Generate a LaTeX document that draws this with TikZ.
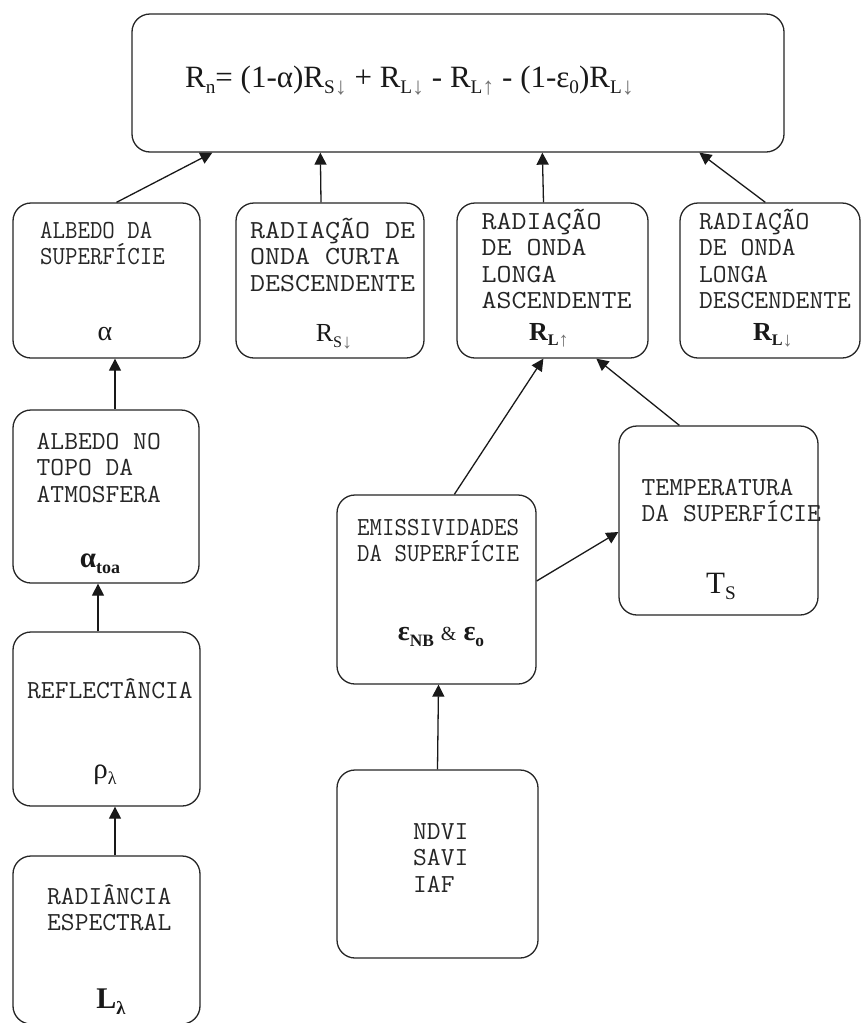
\documentclass[tikz,border=0pt]{standalone}
\usepackage{fontspec}
\setmainfont{Liberation Serif}
\newfontfamily\mA[FakeStretch=1.12]{Latin Modern Mono}
\newfontfamily\mB[FakeStretch=1.03]{Latin Modern Mono}
\newfontfamily\mC[FakeStretch=0.93]{Latin Modern Mono}
\usetikzlibrary{arrows.meta,calc}
\newcommand\sbs[1]{\raisebox{-0.22em}{\scalebox{0.62}{#1}}}
\newcommand\dnar{{\color{black!55}\raisebox{-0.05em}{\scalebox{1.25}{↓}}}}
\newcommand\uparw{{\color{black!55}\raisebox{-0.05em}{\scalebox{1.25}{↑}}}}
\newcommand\lines[1]{\parbox[t]{230pt}{\raggedright #1}}
\begin{document}
\begin{tikzpicture}[x=1pt,y=-1pt,
  box/.style={draw=black!85, line width=1.3pt, rounded corners=18pt, inner sep=0pt},
  conn/.style={draw=black!90, line width=1.3pt, -{Triangle[length=12pt,width=12pt]}},
  lbl/.style={anchor=base west, inner sep=0pt, text=black!85},
  fa/.style={font=\mA\fontsize{26}{26.5}\selectfont},
  fb/.style={font=\mB\fontsize{26}{26.5}\selectfont},
  fc/.style={font=\mC\fontsize{26}{26.5}\selectfont},
  sym/.style={anchor=base, inner sep=0pt, text=black!90}]
\useasboundingbox (0,0) rectangle (861,1023);
\fill[white] (0,0) rectangle (861,1023);

% boxes
\node[box, minimum width=652pt, minimum height=138pt] (top) at (458,83) {};
\node[box, minimum width=187pt, minimum height=155pt] (alb) at (106.5,280.5) {};
\node[box, minimum width=188pt, minimum height=155pt] (rs) at (330,280.5) {};
\node[box, minimum width=191pt, minimum height=155pt] (rlu) at (552.5,280.5) {};
\node[box, minimum width=180pt, minimum height=155pt] (rld) at (770,280.5) {};
\node[box, minimum width=186pt, minimum height=173pt] (toa) at (106,496.5) {};
\node[box, minimum width=187pt, minimum height=174pt] (refl) at (106.5,719) {};
\node[box, minimum width=187pt, minimum height=168pt] (rad) at (106.5,940) {};
\node[box, minimum width=199pt, minimum height=189pt] (emi) at (436.5,589.5) {};
\node[box, minimum width=199pt, minimum height=189pt] (tmp) at (718.5,520.5) {};
\node[box, minimum width=201pt, minimum height=188pt] (ndvi) at (437.5,864) {};

% equation
\node[lbl, font=\fontsize{31}{34}\selectfont, text=black!90] (eq) at (185,87)
  {R\sbs{n}= (1-α)R\sbs{S\dnar} + R\sbs{L\dnar} - R\sbs{L\uparw} - (1-ε\sbs{0})R\sbs{L\dnar}};

% labels
\node[lbl, fc] (talb) at (40,238) {\lines{ALBEDO DA\\SUPERFÍCIE}};
\node[lbl, fa] (trs) at (250,238) {\lines{RADIAÇÃO DE\\ONDA CURTA\\DESCENDENTE}};
\node[lbl, fa] (trlu) at (481.5,229) {\lines{RADIAÇÃO\\DE ONDA\\LONGA\\ASCENDENTE}};
\node[lbl, fb] (trld) at (699,229) {\lines{RADIAÇÃO\\DE ONDA\\LONGA\\DESCENDENTE}};
\node[lbl, fb] (ttoa) at (36.5,449) {\lines{ALBEDO NO\\TOPO DA\\ATMOSFERA}};
\node[lbl, fb] (trefl) at (27,698) {REFLECTÂNCIA};
\node[lbl, fb] (trad) at (47,904) {\lines{RADIÂNCIA\\ESPECTRAL}};
\node[lbl, fc] (temi) at (357,535) {\lines{EMISSIVIDADES\\DA SUPERFÍCIE}};
\node[lbl, fb] (ttmp) at (641.5,495) {\lines{TEMPERATURA\\DA SUPERFÍCIE}};
\node[lbl, fb] (tndvi) at (413,839) {\lines{NDVI\\SAVI\\IAF}};

% symbols
\node[sym, font=\fontsize{28}{30}\selectfont] (salb) at (105,340) {α};
\node[sym, font=\fontsize{26}{30}\selectfont] (srs) at (334,341.5) {R\sbs{S\dnar}};
\node[sym, font=\bfseries\fontsize{26}{30}\selectfont] (srlu) at (549,340) {R\sbs{L\uparw}};
\node[sym, font=\bfseries\fontsize{26}{30}\selectfont] (srld) at (773,340) {R\sbs{L\dnar}};
\node[sym, font=\bfseries\fontsize{29}{30}\selectfont] (stoa) at (100,567) {α\sbs{toa}};
\node[sym, font=\fontsize{29}{30}\selectfont] (srefl) at (105,778) {ρ\sbs{λ}};
\node[sym, font=\bfseries\fontsize{30}{30}\selectfont] (srad) at (111,1008) {L\sbs{λ}};
\node[sym, font=\bfseries\fontsize{28}{30}\selectfont] (semi) at (441,640) {ε\sbs{NB} {\mdseries\fontsize{20}{20}\selectfont\&} ε\sbs{o}};
\node[sym, font=\fontsize{31}{30}\selectfont] (stmp) at (721,593) {T\sbs{S}};

% connectors
\draw[conn] ($(alb.north)+(10,0)$) -- ($(top.south west)+(81,0)$);
\draw[conn] ($(rs.north)+(-9,0)$) -- ($(top.south west)+(189,0)$);
\draw[conn] ($(rlu.north)+(-9,0)$) -- ($(top.south west)+(411,0)$);
\draw[conn] ($(rld.north west)+(86,0)$) -- ($(top.south west)+(568,0)$);
\draw[conn] ($(toa.north)+(9,0)$) -- ($(alb.south)+(8.5,0)$);
\draw[conn] ($(refl.north)+(-8.5,0)$) -- ($(toa.south)+(-8,0)$);
\draw[conn] ($(rad.north)+(8.5,0)$) -- ($(refl.south)+(8.5,0)$);
\draw[conn] ($(emi.north west)+(118,0)$) -- ($(rlu.south west)+(87,0)$);
\draw[conn] ($(tmp.north west)+(61,0)$) -- ($(rlu.south west)+(140,0)$);
\draw[conn] ($(emi.east)+(0,-8.5)$) -- ($(tmp.west)+(0,11.5)$);
\draw[conn] (ndvi.north) -- ($(emi.south)+(2,0)$);
\end{tikzpicture}
\end{document}
